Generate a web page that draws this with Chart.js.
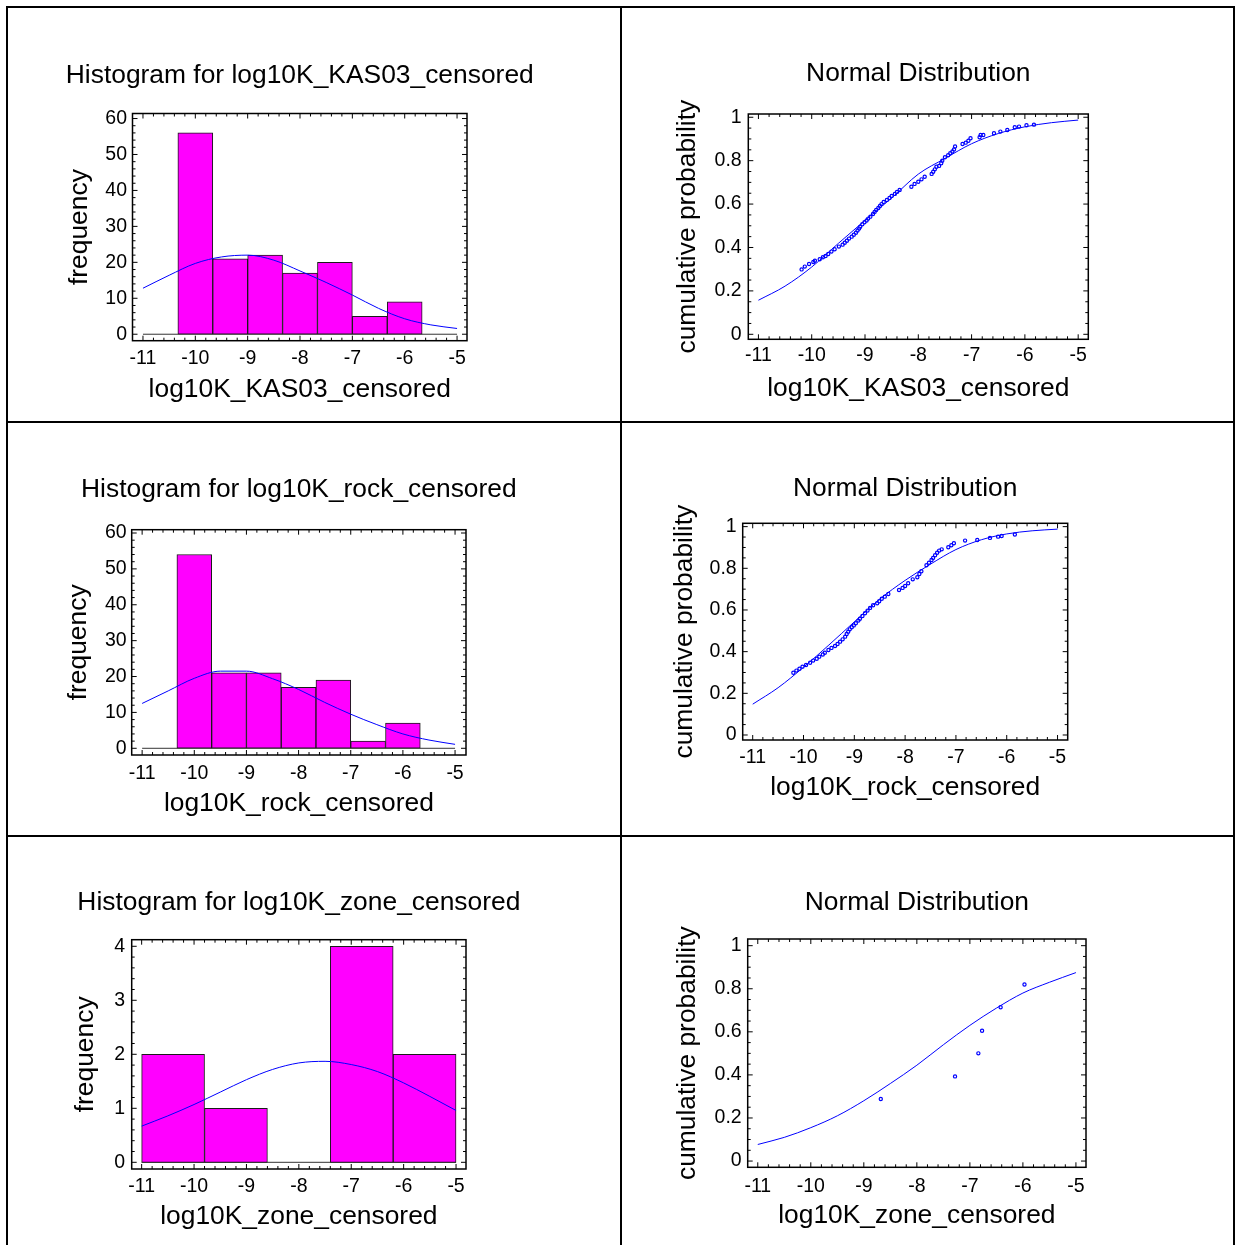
<!DOCTYPE html>
<html>
<head>
<meta charset="utf-8">
<script src="https://cdn.jsdelivr.net/npm/chart.js@4.4.1/dist/chart.umd.min.js"></script>
<style>
  html, body { margin: 0; padding: 0; background: #fff; }
  body { width: 1236px; height: 1245px; position: relative; overflow: hidden; }
  .rule { position: absolute; background: #000; }
  canvas { position: absolute; }
</style>
</head>
<body>
<!-- table frame -->
<div class="rule" style="left:6px;top:6px;width:1229px;height:2px"></div>
<div class="rule" style="left:6px;top:421px;width:1229px;height:2px"></div>
<div class="rule" style="left:6px;top:835px;width:1229px;height:2px"></div>
<div class="rule" style="left:6px;top:6px;width:2px;height:1245px"></div>
<div class="rule" style="left:620px;top:6px;width:2px;height:1245px"></div>
<div class="rule" style="left:1233px;top:6px;width:2px;height:1245px"></div>

<canvas id="c1"></canvas>
<canvas id="c2"></canvas>
<canvas id="c3"></canvas>
<canvas id="c4"></canvas>
<canvas id="c5"></canvas>
<canvas id="c6"></canvas>

<script>
// ---- data ----
const xTicks = [-11, -10, -9, -8, -7, -6, -5];
const xTickLabels = ["-11", "-10", "-9", "-8", "-7", "-6", "-5"];
const freqTicks = [0, 10, 20, 30, 40, 50, 60];
const freqTickLabels = ["0", "10", "20", "30", "40", "50", "60"];
const zoneFreqTicks = [0, 1, 2, 3, 4];
const zoneFreqTickLabels = ["0", "1", "2", "3", "4"];
const probTicks = [0, 0.2, 0.4, 0.6, 0.8, 1];
const probTickLabels = ["0", "0.2", "0.4", "0.6", "0.8", "1"];

// histogram bins (edges) and counts
const kasEdges = [-11, -10.333, -9.667, -9, -8.333, -7.667, -7, -6.333, -5.667, -5];
const kasCounts = [0, 56, 21, 22, 17, 20, 5, 9, 0];
const rockEdges = [-11, -10.333, -9.667, -9, -8.333, -7.667, -7, -6.333, -5.667, -5];
const rockCounts = [0, 54, 21, 21, 17, 19, 2, 7, 0];
const zoneEdges = [-11, -9.8, -8.6, -7.4, -6.2, -5];
const zoneCounts = [2, 1, 0, 4, 2];

// fitted curves, sampled along x
const curveX = [-11, -10.5, -10, -9.5, -9, -8.5, -8, -7.5, -7, -6.5, -6, -5.5, -5];
const kasDensity = [12.8, 16.4, 19.7, 21.5, 22.0, 20.6, 17.6, 14.4, 10.9, 7.2, 4.3, 2.6, 1.6];
const rockDensity = [12.5, 16.0, 19.5, 21.5, 21.5, 19.4, 16.4, 12.8, 9.5, 6.6, 4.0, 2.3, 1.1];
const zoneDensity = [0.67, 0.86, 1.07, 1.30, 1.53, 1.72, 1.84, 1.87, 1.81, 1.68, 1.47, 1.22, 0.96];
const kasCdf = [0.157, 0.222, 0.31, 0.419, 0.525, 0.628, 0.738, 0.81, 0.878, 0.925, 0.956, 0.975, 0.987];
const rockCdf = [0.148, 0.227, 0.325, 0.432, 0.543, 0.652, 0.742, 0.82, 0.89, 0.937, 0.965, 0.98, 0.988];
const zoneCdf = [0.077, 0.11, 0.155, 0.21, 0.28, 0.36, 0.445, 0.54, 0.63, 0.71, 0.78, 0.83, 0.875];

// empirical cumulative points
const kasPx = [-10.19, -10.13, -10.05, -9.97, -9.94, -9.85, -9.79, -9.74, -9.69, -9.63,
  -9.57, -9.49, -9.42, -9.38, -9.34, -9.30, -9.25, -9.21, -9.17, -9.14,
  -9.11, -9.09, -9.05, -9.01, -8.97, -8.94, -8.90, -8.85, -8.82, -8.79,
  -8.75, -8.72, -8.69, -8.65, -8.59, -8.54, -8.50, -8.44, -8.40, -8.35,
  -8.13, -8.07, -8.00, -7.94, -7.88, -7.75, -7.72, -7.69, -7.66, -7.61,
  -7.57, -7.55, -7.50, -7.44, -7.40, -7.36, -7.33, -7.31, -7.17, -7.11,
  -7.06, -7.02, -6.85, -6.83, -6.78, -6.58, -6.46, -6.33, -6.19, -6.11,
  -5.97, -5.83];
const kasPy = [0.299, 0.312, 0.324, 0.333, 0.339, 0.346, 0.355, 0.361, 0.370, 0.381,
  0.392, 0.404, 0.413, 0.422, 0.431, 0.441, 0.450, 0.459, 0.468, 0.478,
  0.487, 0.496, 0.507, 0.516, 0.524, 0.533, 0.542, 0.554, 0.564, 0.573,
  0.582, 0.591, 0.600, 0.610, 0.619, 0.628, 0.637, 0.647, 0.656, 0.665,
  0.680, 0.693, 0.703, 0.714, 0.726, 0.739, 0.749, 0.760, 0.772, 0.776,
  0.788, 0.800, 0.816, 0.825, 0.834, 0.842, 0.852, 0.865, 0.877, 0.883,
  0.892, 0.903, 0.908, 0.918, 0.918, 0.926, 0.934, 0.941, 0.954, 0.957,
  0.963, 0.966];
const rockPx = [-10.20, -10.14, -10.08, -10.02, -9.95, -9.87, -9.81, -9.74, -9.69, -9.62,
  -9.58, -9.51, -9.45, -9.38, -9.33, -9.28, -9.23, -9.18, -9.15, -9.12,
  -9.09, -9.05, -9.01, -8.97, -8.92, -8.89, -8.84, -8.79, -8.74, -8.69,
  -8.63, -8.55, -8.51, -8.46, -8.40, -8.33, -8.12, -8.05, -8.00, -7.94,
  -7.85, -7.76, -7.72, -7.68, -7.58, -7.53, -7.48, -7.45, -7.41, -7.37,
  -7.33, -7.28, -7.15, -7.09, -7.04, -6.82, -6.58, -6.33, -6.17, -6.10,
  -5.84];
const rockPy = [0.299, 0.309, 0.318, 0.328, 0.336, 0.347, 0.357, 0.366, 0.376, 0.386,
  0.395, 0.408, 0.418, 0.427, 0.437, 0.448, 0.459, 0.472, 0.485, 0.496,
  0.507, 0.517, 0.526, 0.536, 0.549, 0.558, 0.571, 0.584, 0.597, 0.610,
  0.623, 0.632, 0.642, 0.654, 0.664, 0.677, 0.696, 0.706, 0.715, 0.728,
  0.747, 0.757, 0.773, 0.786, 0.815, 0.827, 0.840, 0.850, 0.863, 0.875,
  0.885, 0.891, 0.901, 0.911, 0.920, 0.933, 0.936, 0.946, 0.952, 0.955,
  0.962];
const zonePx = [-8.68, -7.28, -6.84, -6.77, -6.42, -5.97];
const zonePy = [0.288, 0.393, 0.5, 0.605, 0.714, 0.82];

// ---- look ----
const FONT = "'Liberation Sans', Arial, Helvetica, sans-serif";
const TITLE_SIZE = 26.4;
const TICK_SIZE = 19.5;
const BLUE = "#0000ff";
Chart.defaults.font.family = FONT;
Chart.defaults.color = "#000";

// frame, inward major/minor ticks on all four sides, title and y title
function framePlugin(spec, place, cell) {
  const subdivide = (ticks, n) => {
    const out = [];
    for (let i = 0; i < ticks.length - 1; i++) {
      for (let k = 1; k < n; k++) out.push(ticks[i] + ((ticks[i + 1] - ticks[i]) * k) / n);
    }
    return out;
  };
  return {
    id: "frame",
    afterDraw(chart) {
      const { ctx, chartArea: a } = chart;
      const sx = chart.scales.x;
      const sy = chart.scales.y;
      ctx.save();
      ctx.strokeStyle = "#000";
      ctx.lineWidth = 1;
      ctx.beginPath();
      const vTick = (v, len) => {
        const p = sx.getPixelForValue(v);
        ctx.moveTo(p, a.bottom); ctx.lineTo(p, a.bottom - len);
        ctx.moveTo(p, a.top); ctx.lineTo(p, a.top + len);
      };
      const hTick = (v, len) => {
        const p = sy.getPixelForValue(v);
        ctx.moveTo(a.left, p); ctx.lineTo(a.left + len, p);
        ctx.moveTo(a.right, p); ctx.lineTo(a.right - len, p);
      };
      xTicks.forEach((v) => vTick(v, 5));
      subdivide(xTicks, 5).forEach((v) => vTick(v, 3));
      spec.yTicks.forEach((v) => hTick(v, 5));
      subdivide(spec.yTicks, spec.yDiv).forEach((v) => hTick(v, 3));
      ctx.stroke();
      ctx.lineWidth = 1.5;
      ctx.strokeRect(a.left, a.top, a.right - a.left, a.bottom - a.top);

      ctx.fillStyle = "#000";
      ctx.font = TITLE_SIZE + "px " + FONT;
      ctx.textAlign = "center";
      ctx.textBaseline = "middle";
      ctx.fillText(spec.title, (a.left + a.right) / 2, place.titleY - cell.T);
      ctx.translate(place.yTitleX - cell.L, (a.top + a.bottom) / 2);
      ctx.rotate(-Math.PI / 2);
      ctx.fillText(spec.yTitle, 0, 0);
      ctx.restore();
    },
  };
}

function histDatasets(edges, counts, density) {
  const bins = counts.map((c, i) => ({ x: (edges[i] + edges[i + 1]) / 2, y: c }));
  return [
    {
      type: "line",
      data: curveX.map((x, i) => ({ x, y: density[i] })),
      borderColor: BLUE, borderWidth: 1, pointRadius: 0,
      cubicInterpolationMode: "monotone", order: 0,
    },
    {
      type: "bar",
      data: bins,
      backgroundColor: "#ff00ff", borderColor: "#1a1a1a", borderWidth: 1,
      borderSkipped: false, barThickness: "flex",
      categoryPercentage: 1, barPercentage: 1, order: 1,
    },
    {
      type: "line",
      data: [{ x: edges[0], y: 0 }, { x: edges[edges.length - 1], y: 0 }],
      borderColor: "#333", borderWidth: 1, pointRadius: 0, order: 2,
    },
  ];
}

function cdfDatasets(px, py, cdf) {
  return [
    {
      type: "scatter",
      data: px.map((x, i) => ({ x, y: py[i] })),
      showLine: false, pointRadius: 1.6, pointBorderWidth: 1.2,
      borderColor: BLUE, backgroundColor: "rgba(0,0,0,0)", order: 0,
    },
    {
      type: "line",
      data: curveX.map((x, i) => ({ x, y: cdf[i] })),
      borderColor: BLUE, borderWidth: 1, pointRadius: 0,
      cubicInterpolationMode: "monotone", order: 1,
    },
  ];
}

function buildChart(id, cell, place, spec) {
  const canvas = document.getElementById(id);
  canvas.width = cell.W;
  canvas.height = cell.H;
  canvas.style.left = cell.L + "px";
  canvas.style.top = cell.T + "px";
  const [x0, y0, x1, y1] = place.box;
  const tickLH = TICK_SIZE * 1.2;
  const titleLH = TITLE_SIZE * 1.2;
  return new Chart(canvas, {
    type: spec.type,
    data: { datasets: spec.datasets },
    options: {
      responsive: false,
      animation: false,
      events: [],
      layout: { padding: { left: 0, top: y0 - cell.T, right: cell.L + cell.W - x1, bottom: 0 } },
      plugins: { legend: { display: false }, tooltip: { enabled: false }, title: { display: false } },
      scales: {
        x: {
          type: "linear", min: spec.xRange[0], max: spec.xRange[1], bounds: "data", offset: false,
          grid: { display: false, drawTicks: false, offset: false },
          border: { display: false },
          afterBuildTicks: (s) => { s.ticks = xTicks.map((v) => ({ value: v })); },
          afterFit: (s) => { s.height = cell.T + cell.H - y1; },
          ticks: {
            autoSkip: false, maxRotation: 0, minRotation: 0,
            padding: place.xTickY - y1 - tickLH / 2,
            font: { size: TICK_SIZE },
            callback: (v, i) => xTickLabels[i],
          },
          title: {
            display: true, text: spec.xTitle, font: { size: TITLE_SIZE },
            padding: { top: 0, bottom: cell.T + cell.H - place.xTitleY - titleLH / 2 },
          },
        },
        y: {
          type: "linear", min: spec.yRange[0], max: spec.yRange[1], bounds: "data",
          grid: { display: false, drawTicks: false },
          border: { display: false },
          afterBuildTicks: (s) => { s.ticks = spec.yTicks.map((v) => ({ value: v })); },
          afterFit: (s) => { s.width = x0 - cell.L; },
          ticks: {
            autoSkip: false,
            padding: x0 - place.yTickRight,
            font: { size: TICK_SIZE },
            callback: (v, i) => spec.yTickLabels[i],
          },
        },
      },
    },
    plugins: [framePlugin(spec, place, cell)],
  });
}

// ---- page layout (cells and plot boxes in page pixels) ----
const cells = {
  c1: { L: 8, T: 8, W: 612, H: 413 },
  c2: { L: 622, T: 8, W: 611, H: 413 },
  c3: { L: 8, T: 423, W: 612, H: 412 },
  c4: { L: 622, T: 423, W: 611, H: 412 },
  c5: { L: 8, T: 837, W: 612, H: 408 },
  c6: { L: 622, T: 837, W: 611, H: 408 },
};
const places = {
  c1: { box: [132.5, 113.5, 467, 340.7], titleY: 75.3, xTickY: 358.3, xTitleY: 390, yTitleX: 80, yTickRight: 127 },
  c2: { box: [748.3, 114, 1088.3, 339.3], titleY: 74, xTickY: 355.7, xTitleY: 389, yTitleX: 688, yTickRight: 741.7 },
  c3: { box: [131.7, 529.7, 466, 755], titleY: 490, xTickY: 773.3, xTitleY: 804, yTitleX: 79, yTickRight: 126.7 },
  c4: { box: [742.7, 523.3, 1067.7, 740], titleY: 489, xTickY: 757.5, xTitleY: 788, yTitleX: 685, yTickRight: 736.7 },
  c5: { box: [131.7, 939.7, 466, 1169], titleY: 903, xTickY: 1186.7, xTitleY: 1217, yTitleX: 86, yTickRight: 125 },
  c6: { box: [747.7, 939, 1086, 1167.3], titleY: 903, xTickY: 1186.5, xTitleY: 1216, yTitleX: 688, yTickRight: 741.7 },
};

buildChart("c1", cells.c1, places.c1, {
  type: "bar", datasets: histDatasets(kasEdges, kasCounts, kasDensity),
  title: "Histogram for log10K_KAS03_censored", xTitle: "log10K_KAS03_censored", yTitle: "frequency",
  xRange: [-11.2, -4.81], yRange: [-1.8, 61.4], yTicks: freqTicks, yTickLabels: freqTickLabels, yDiv: 5,
});
buildChart("c2", cells.c2, places.c2, {
  type: "scatter", datasets: cdfDatasets(kasPx, kasPy, kasCdf),
  title: "Normal Distribution", xTitle: "log10K_KAS03_censored", yTitle: "cumulative probability",
  xRange: [-11.19, -4.81], yRange: [-0.023, 1.015], yTicks: probTicks, yTickLabels: probTickLabels, yDiv: 4,
});
buildChart("c3", cells.c3, places.c3, {
  type: "bar", datasets: histDatasets(rockEdges, rockCounts, rockDensity),
  title: "Histogram for log10K_rock_censored", xTitle: "log10K_rock_censored", yTitle: "frequency",
  xRange: [-11.2, -4.79], yRange: [-1.87, 60.92], yTicks: freqTicks, yTickLabels: freqTickLabels, yDiv: 5,
});
buildChart("c4", cells.c4, places.c4, {
  type: "scatter", datasets: cdfDatasets(rockPx, rockPy, rockCdf),
  title: "Normal Distribution", xTitle: "log10K_rock_censored", yTitle: "cumulative probability",
  xRange: [-11.197, -4.8], yRange: [-0.024, 1.016], yTicks: probTicks, yTickLabels: probTickLabels, yDiv: 4,
});
buildChart("c5", cells.c5, places.c5, {
  type: "bar", datasets: histDatasets(zoneEdges, zoneCounts, zoneDensity),
  title: "Histogram for log10K_zone_censored", xTitle: "log10K_zone_censored", yTitle: "frequency",
  xRange: [-11.19, -4.81], yRange: [-0.124, 4.122], yTicks: zoneFreqTicks, yTickLabels: zoneFreqTickLabels, yDiv: 5,
});
buildChart("c6", cells.c6, places.c6, {
  type: "scatter", datasets: cdfDatasets(zonePx, zonePy, zoneCdf),
  title: "Normal Distribution", xTitle: "log10K_zone_censored", yTitle: "cumulative probability",
  xRange: [-11.19, -4.81], yRange: [-0.029, 1.031], yTicks: probTicks, yTickLabels: probTickLabels, yDiv: 4,
});
</script>
</body>
</html>
